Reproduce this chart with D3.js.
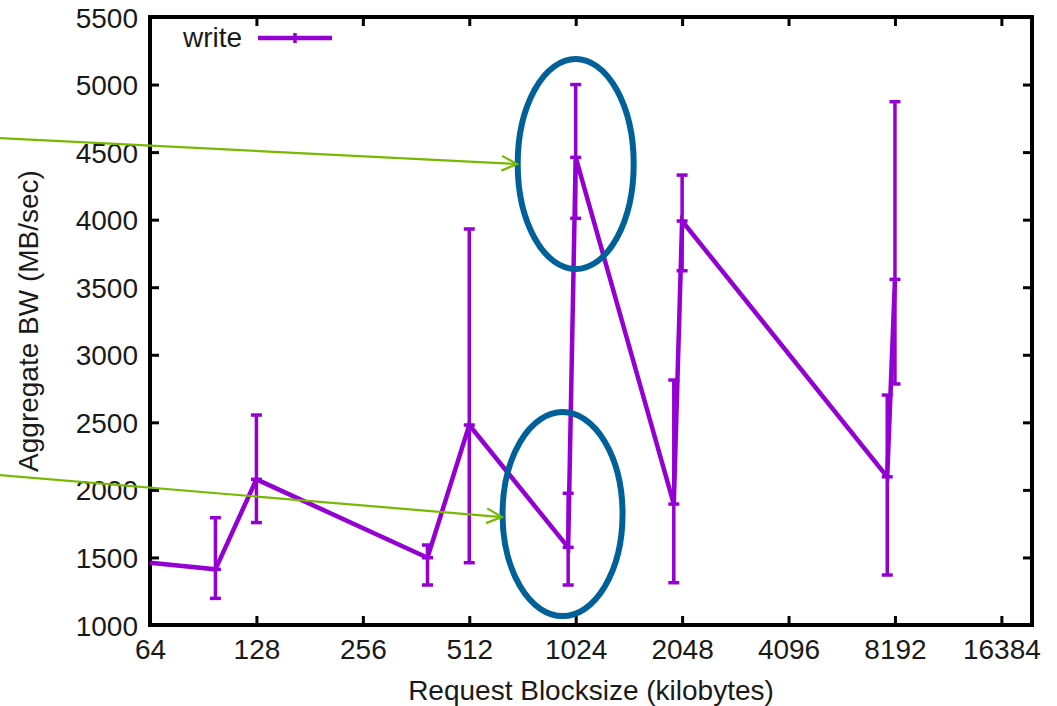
<!DOCTYPE html>
<html>
<head>
<meta charset="utf-8">
<script src="https://cdn.jsdelivr.net/npm/d3@7"></script>
<style>
  body { margin: 0; background: #fff; }
  text { font-family: "Liberation Sans", Arial, sans-serif; fill: #1a1a1a; }
</style>
</head>
<body>
<div id="chart"></div>
<script>
// request blocksize (KB) and aggregate write bandwidth (MB/sec)
const blocksize = [64, 98, 128, 390, 512, 975, 1024, 1940, 2048, 7790, 8192]
const bandwidth = [1460, 1412, 2078, 1498, 2480, 1575, 4461, 1895, 3990, 2097, 3558]
const bwLow = [1460, 1197, 1758, 1296, 1461, 1296, 4010, 1313, 3622, 1370, 2784]
const bwHigh = [1460, 1794, 2554, 1592, 3931, 1975, 5000, 2813, 4330, 2702, 4873]

const xTicks = [64, 128, 256, 512, 1024, 2048, 4096, 8192, 16384]
const yTicks = [1000, 1500, 2000, 2500, 3000, 3500, 4000, 4500, 5000, 5500]

// annotations: circles round the 1024 points, arrows coming in from the left
const circleX = [1024, 940]
const circleY = [4412, 1821]
const arrowFromX = [24, 24]
const arrowFromY = [4604, 2110]
const arrowToX = [699, 633]
const arrowToY = [4412, 1799]

let margin = { top: 17, right: 25, bottom: 81, left: 150 }
let width = 1057 - margin.left - margin.right
let height = 706 - margin.top - margin.bottom

const purple = "#9400d3"
const blue = "#00619a"
const green = "#78b800"

let svg = d3.select("#chart")
    .append("svg")
    .attr("width", 1057)
    .attr("height", 706)
    .append("g")
    .attr("transform", "translate(" + margin.left + "," + margin.top + ")")

let x = d3.scaleLog().base(2)
    .domain([64, 20000])
    .range([0, width])

let y = d3.scaleLinear()
    .domain([1000, 5500])
    .range([height, 0])

// axes, ticks pointing inwards on all four sides
let xAxis = svg.append("g")
    .attr("transform", "translate(0," + height + ")")
    .call(d3.axisBottom(x).tickValues(xTicks).tickFormat(d3.format("d")).tickSize(-9).tickPadding(14))
let xTop = svg.append("g")
    .call(d3.axisTop(x).tickValues(xTicks).tickFormat("").tickSize(-9))
let yAxis = svg.append("g")
    .call(d3.axisLeft(y).tickValues(yTicks).tickFormat(d3.format("d")).tickSize(-9).tickPadding(12))
let yRight = svg.append("g")
    .attr("transform", "translate(" + width + ",0)")
    .call(d3.axisRight(y).tickValues(yTicks).tickFormat("").tickSize(-9))

svg.selectAll(".domain").remove()
svg.selectAll(".tick line").attr("stroke", "#000").attr("stroke-width", 3)
svg.selectAll(".tick text").style("font-size", "28px").attr("fill", "#1a1a1a")
yAxis.selectAll(".tick text").attr("dy", "0.36em")

svg.append("rect")
    .attr("width", width)
    .attr("height", height)
    .attr("fill", "none")
    .attr("stroke", "#000")
    .attr("stroke-width", 4)

// axis titles
svg.append("text")
    .attr("x", width / 2)
    .attr("y", height + 75)
    .attr("text-anchor", "middle")
    .style("font-size", "28px")
    .text("Request Blocksize (kilobytes)")

svg.append("text")
    .attr("transform", "translate(" + (-112) + "," + (height / 2) + ") rotate(-90)")
    .attr("text-anchor", "middle")
    .style("font-size", "28px")
    .text("Aggregate BW (MB/sec)")

const points = blocksize.map((b, i) => ({ b: b, v: bandwidth[i], lo: bwLow[i], hi: bwHigh[i] }))

// connecting line
svg.append("path")
    .datum(points)
    .attr("fill", "none")
    .attr("stroke", purple)
    .attr("stroke-width", 4.5)
    .attr("d", d3.line().x(d => x(d.b)).y(d => y(d.v)))

// error bars
let bars = svg.append("g")
    .selectAll("g")
    .data(points.filter(d => d.hi > d.lo))
    .enter()
    .append("g")
    .attr("stroke", purple)
    .attr("stroke-width", 3.5)

bars.append("line")
    .attr("x1", d => x(d.b)).attr("x2", d => x(d.b))
    .attr("y1", d => y(d.lo)).attr("y2", d => y(d.hi))
bars.append("line")
    .attr("x1", d => x(d.b) - 5.5).attr("x2", d => x(d.b) + 5.5)
    .attr("y1", d => y(d.lo)).attr("y2", d => y(d.lo))
bars.append("line")
    .attr("x1", d => x(d.b) - 5.5).attr("x2", d => x(d.b) + 5.5)
    .attr("y1", d => y(d.hi)).attr("y2", d => y(d.hi))
bars.append("line")
    .attr("x1", d => x(d.b) - 5.5).attr("x2", d => x(d.b) + 5.5)
    .attr("y1", d => y(d.v)).attr("y2", d => y(d.v))

// legend
let legend = svg.append("g")
svg.append("text")
    .attr("x", 33)
    .attr("y", 30)
    .style("font-size", "28px")
    .text("write")
legend.append("line")
    .attr("x1", 108).attr("x2", 182)
    .attr("y1", 21).attr("y2", 21)
    .attr("stroke", purple).attr("stroke-width", 4.5)
legend.append("line")
    .attr("x1", 145).attr("x2", 145)
    .attr("y1", 16).attr("y2", 26)
    .attr("stroke", purple).attr("stroke-width", 3.5)

// annotation ellipses and arrows (drawn on top, not clipped)
let notes = d3.select("svg").append("g")
    .attr("transform", "translate(" + margin.left + "," + margin.top + ")")

notes.selectAll("ellipse")
    .data(circleX)
    .enter()
    .append("ellipse")
    .attr("cx", (d) => x(d))
    .attr("cy", (d, i) => y(circleY[i]))
    .attr("rx", (d, i) => i == 0 ? 58 : 60)
    .attr("ry", (d, i) => i == 0 ? 105 : 102)
    .attr("fill", "none")
    .attr("stroke", blue)
    .attr("stroke-width", 6)

arrowFromX.forEach((fx, i) => {
    let x0 = x(fx), y0 = y(arrowFromY[i])
    let x1 = x(arrowToX[i]), y1 = y(arrowToY[i])
    let a = Math.atan2(y1 - y0, x1 - x0)
    let len = 17, spread = 0.45
    notes.append("line")
        .attr("x1", x0).attr("y1", y0).attr("x2", x1).attr("y2", y1)
        .attr("stroke", green).attr("stroke-width", 2.2)
    notes.append("path")
        .attr("d", "M" + (x1 - len * Math.cos(a - spread)) + "," + (y1 - len * Math.sin(a - spread)) +
            "L" + x1 + "," + y1 +
            "L" + (x1 - len * Math.cos(a + spread)) + "," + (y1 - len * Math.sin(a + spread)))
        .attr("fill", "none")
        .attr("stroke", green).attr("stroke-width", 2.2)
})
</script>
</body>
</html>
